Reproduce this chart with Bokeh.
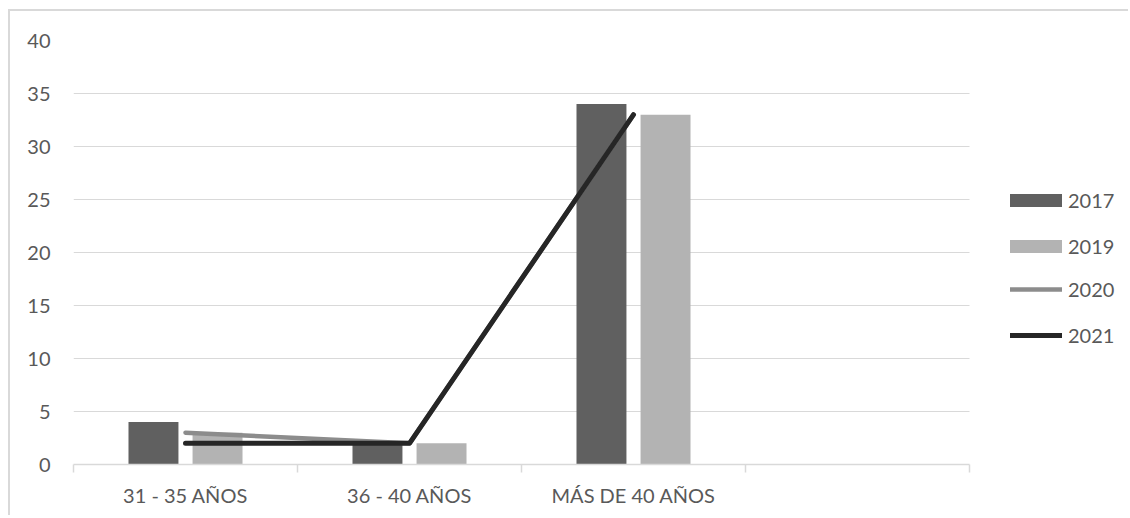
import numpy as np
from bokeh.plotting import figure
from bokeh.models import (Range1d, FixedTicker, Legend, LegendItem, ColumnDataSource)
from bokeh.transform import dodge
from bokeh.embed import file_html
from bokeh.resources import INLINE

# Age groups (the fourth slot is an empty category)
categories = ["31 - 35 AÑOS", "36 - 40 AÑOS", "MÁS DE 40 AÑOS", ""]
years_bar = ["2017", "2019"]
years_line = ["2020", "2021"]
v2017 = [4, 2, 34]
v2019 = [3, 2, 33]
v2020 = [3, 2, 33]
v2021 = [2, 2, 33]
y_ticks = [0, 5, 10, 15, 20, 25, 30, 35, 40]

FONT = "Lato"
FS = "20px"
TXT = "#595959"
GRID = "#d9d9d9"

# layout: the category area spans PLOT_W px, the frame runs on to the right edge
FIG_W, FIG_H = 1120, 506
LEFT, PLOT_W = 63, 896
frame_w = FIG_W - LEFT

n = len(categories)
centers = np.arange(n) + 0.5
xc = centers[:3]
x_end = n * frame_w / PLOT_W

src = ColumnDataSource(dict(x=xc, v2017=v2017, v2019=v2019, v2020=v2020, v2021=v2021))

p = figure(width=FIG_W, height=FIG_H, output_backend="svg", toolbar_location=None,
           x_range=Range1d(0, x_end), y_range=Range1d(0, 40),
           min_border_left=LEFT, min_border_right=0, min_border_top=29, min_border_bottom=53)
p.styles = {"border-top": "2px solid #d9d9d9", "border-left": "2px solid #d9d9d9",
            "border-right": "0px none", "border-bottom": "0px none",
            "margin-left": "8px", "margin-top": "9px"}
p.outline_line_color = None
p.background_fill_color = "white"
p.border_fill_color = "white"
p.border_fill_alpha = 0

# horizontal gridlines, limited to the category area
p.xgrid.grid_line_color = None
p.ygrid.ticker = FixedTicker(ticks=y_ticks)
p.ygrid.grid_line_color = GRID
p.ygrid.grid_line_width = 1
p.ygrid.cross_bounds = (0, n)

bw = 0.223
off = 0.143
r17 = p.vbar(x=dodge("x", -off), top="v2017", width=bw, source=src,
             fill_color="#606060", line_color=None)
r19 = p.vbar(x=dodge("x", off), top="v2019", width=bw, source=src,
             fill_color="#b3b3b3", line_color=None)

r20 = p.line(x="x", y="v2020", source=src, line_color="#8c8c8c", line_width=4.5,
             line_cap="round", line_join="round")
r21 = p.line(x="x", y="v2021", source=src, line_color="#262626", line_width=5,
             line_cap="round", line_join="round")

# axes
p.xaxis.bounds = (0, n)
p.xaxis.ticker = FixedTicker(ticks=list(centers[:3]), minor_ticks=list(range(n + 1)))
p.xaxis.major_label_overrides = {float(c): lab for c, lab in zip(centers, categories)}
p.xaxis.axis_line_color = GRID
p.xaxis.axis_line_width = 1.5
p.xaxis.major_tick_line_color = None
p.xaxis.major_tick_out = 0
p.xaxis.major_tick_in = 0
p.xaxis.minor_tick_line_color = GRID
p.xaxis.minor_tick_line_width = 1.5
p.xaxis.minor_tick_out = 8
p.xaxis.minor_tick_in = 0
p.xaxis.major_label_standoff = 10
p.xaxis.major_label_text_font = FONT
p.xaxis.major_label_text_font_size = FS
p.xaxis.major_label_text_color = TXT

p.yaxis.ticker = FixedTicker(ticks=y_ticks)
p.yaxis.axis_line_color = None
p.yaxis.major_tick_line_color = None
p.yaxis.major_tick_out = 0
p.yaxis.major_tick_in = 0
p.yaxis.minor_tick_line_color = None
p.yaxis.major_label_standoff = 23
p.yaxis.major_label_text_font = FONT
p.yaxis.major_label_text_font_size = FS
p.yaxis.major_label_text_color = TXT

def mk_legend(items, loc, gw, gh, standoff):
    return Legend(items=items, location=loc, orientation="vertical",
                  glyph_width=gw, glyph_height=gh, label_height=gh, spacing=22,
                  padding=0, margin=0, border_line_color=None, background_fill_alpha=0,
                  label_text_font=FONT, label_text_font_size=FS,
                  label_text_color=TXT, label_standoff=standoff)

p.add_layout(mk_legend([LegendItem(label="2017", renderers=[r17]),
                        LegendItem(label="2019", renderers=[r19])],
                       (930, 206), 65, 16, 0))
p.add_layout(mk_legend([LegendItem(label="2020", renderers=[r20]),
                        LegendItem(label="2021", renderers=[r21])],
                       (937, 117), 52, 16, 6))

open("out.html", "w").write(file_html(p, INLINE))
